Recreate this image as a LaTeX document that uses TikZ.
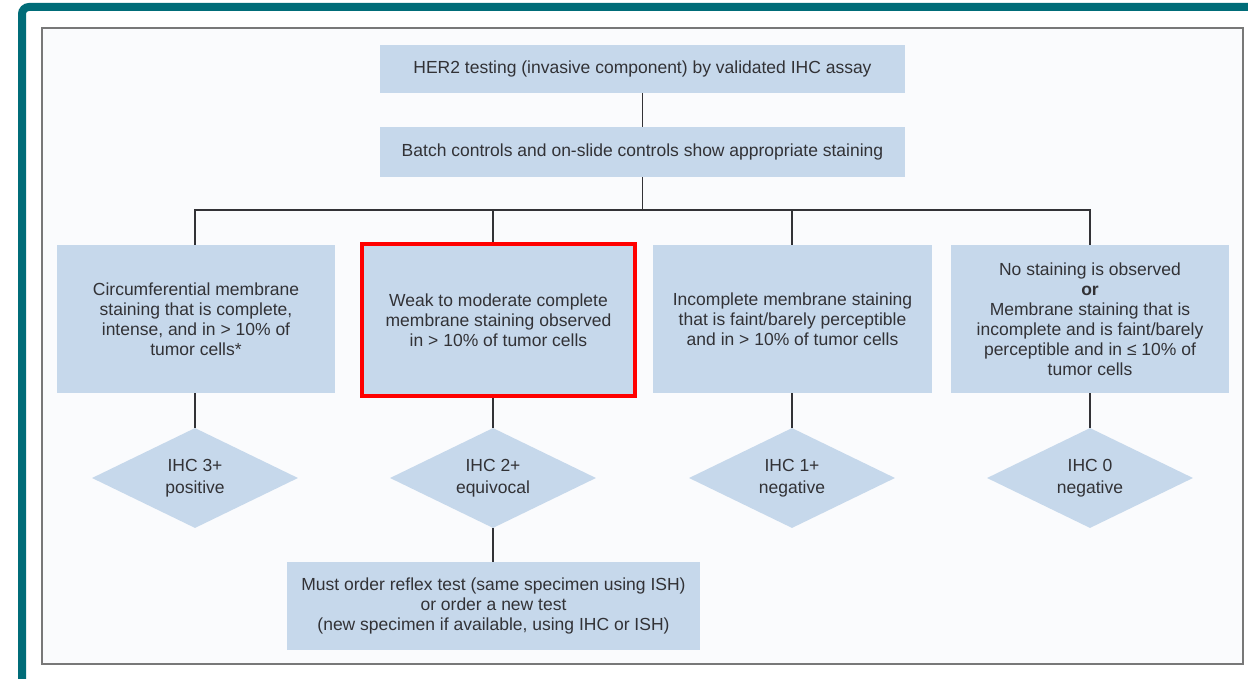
\documentclass[tikz,border=0pt]{standalone}
\usepackage{fontspec}
\setmainfont{Liberation Sans}
\usetikzlibrary{shapes.geometric}
\definecolor{frameteal}{RGB}{0,108,120}
\definecolor{boxblue}{RGB}{198,216,235}
\definecolor{paper}{RGB}{250,251,253}
\definecolor{ink}{RGB}{50,50,54}
\definecolor{linegray}{RGB}{120,120,120}
\begin{document}
\begin{tikzpicture}[x=1pt,y=-1pt,
  box/.style={rectangle, fill=boxblue, text=ink, align=center, inner sep=0pt,
    font=\fontsize{17.5}{20}\selectfont},
  dia/.style={diamond, fill=boxblue, text=ink, align=center, inner sep=-12pt,
    minimum width=206pt, minimum height=100pt,
    font=\fontsize{17.5}{22}\selectfont},
  conn/.style={draw=ink, line width=1.8pt}]
% canvas
\useasboundingbox (0,0) rectangle (1248,679);
\fill[white] (0,0) rectangle (1248,679);
% teal outer frame, open to the right and bottom
\draw[frameteal, line width=8pt, rounded corners=7pt] (22,690) -- (22,7) -- (1260,7);
% grey panel
\draw[linegray, line width=1.8pt, fill=paper] (42,28) rectangle (1243,664);

% top row
\node[box, minimum width=525pt, minimum height=48pt] (test) at (642.5,69)
  {HER2 testing (invasive component) by validated IHC assay};
\node[box, minimum width=525pt, minimum height=50pt] (batch) at (642.5,152)
  {Batch controls and on-slide controls show appropriate staining};

% four categories
\node[box, minimum width=278pt, minimum height=148pt] (b1) at (196,319)
  {Circumferential membrane\\ staining that is complete,\\ intense, and in > 10\% of\\ tumor cells*};
\node[box, draw=red, line width=4pt, minimum width=273pt, minimum height=152pt] (b2) at (498.5,320)
  {Weak to moderate complete\\ membrane staining observed\\ in > 10\% of tumor cells};
\node[box, minimum width=279pt, minimum height=148pt] (b3) at (792.5,319)
  {Incomplete membrane staining\\ that is faint/barely perceptible\\ and in > 10\% of tumor cells};
\node[box, minimum width=278pt, minimum height=148pt] (b4) at (1090,319)
  {No staining is observed\\ \textbf{or}\\ Membrane staining that is\\ incomplete and is faint/barely\\ perceptible and in ≤ 10\% of\\ tumor cells};

% scores
\node[dia] (d1) at (195,478) {IHC 3+\\ positive};
\node[dia] (d2) at (493,478) {IHC 2+\\ equivocal};
\node[dia] (d3) at (792,478) {IHC 1+\\ negative};
\node[dia] (d4) at (1090,478) {IHC 0\\ negative};

% follow-up for equivocal
\node[box, minimum width=413pt, minimum height=88pt] (reflex) at (493.5,606)
  {Must order reflex test (same specimen using ISH)\\ or order a new test\\ (new specimen if available, using IHC or ISH)};

% connectors
\coordinate (bus) at (642.5,210);
\coordinate (j1) at (195,210);
\coordinate (j2) at (493,210);
\coordinate (j3) at (792,210);
\coordinate (j4) at (1090,210);
\draw[conn] (test.south) -- (batch.north);
\draw[conn] (batch.south) -- (bus);
\draw[conn] (j1 |- b1.north) -- (j1) -- (j4) -- (j4 |- b4.north);
\draw[conn] (j2) -- (j2 |- b2.north);
\draw[conn] (j3) -- (j3 |- b3.north);
\draw[conn] (d1.north |- b1.south) -- (d1.north);
\draw[conn] (d2.north |- b2.south) -- (d2.north);
\draw[conn] (d3.north |- b3.south) -- (d3.north);
\draw[conn] (d4.north |- b4.south) -- (d4.north);
\draw[conn] (d2.south) -- (d2.south |- reflex.north);
\end{tikzpicture}
\end{document}
